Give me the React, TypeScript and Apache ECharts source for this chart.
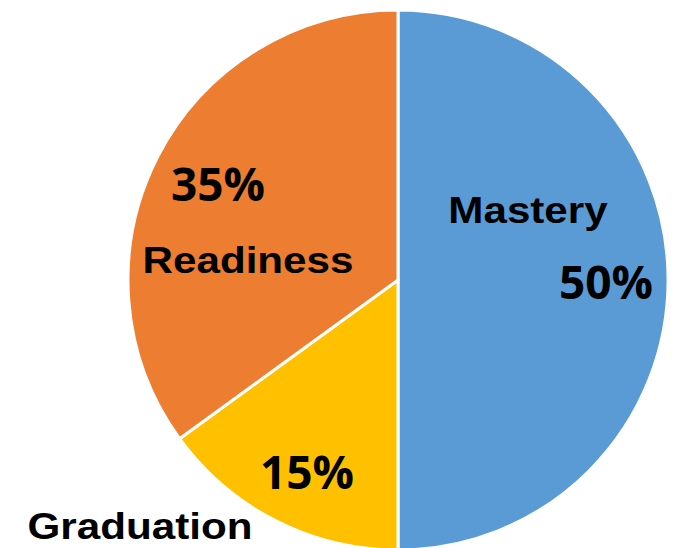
import React, { useEffect, useRef } from "react";
import * as echarts from "echarts";

const categories = ["Mastery", "Graduation", "Readiness"];
const values = [50, 15, 35];
const colors = ["#5B9BD5", "#FFC000", "#ED7D31"];
const percentLabels = ["50%", "15%", "35%"];

export default function App() {
  const ref = useRef<HTMLDivElement>(null);
  useEffect(() => {
    document.body.style.margin = "0";
    const chart = echarts.init(ref.current!, null, { renderer: "svg" });
    const nameFont = { fontFamily: "Liberation Sans, Arial, sans-serif", fontWeight: "bold", fontSize: 37, fill: "#000" };
    const pctFont = { fontFamily: "Open Sans, sans-serif", fontWeight: "bold", fontSize: 46, fill: "#000" };
    const namePos = [[528, 210], [140, 526], [248, 260]];
    const pctPos = [[606, 281], [307, 471], [218, 183]];
    const graphic: any[] = [];
    categories.forEach((c, i) => {
      graphic.push({ type: "text", z: 100, x: namePos[i][0], y: namePos[i][1], scaleX: 1.14, style: { text: c, align: "center", verticalAlign: "middle", ...nameFont } });
      graphic.push({ type: "text", z: 100, x: pctPos[i][0], y: pctPos[i][1], style: { text: percentLabels[i], align: "center", verticalAlign: "middle", ...pctFont } });
    });
    chart.setOption({
      animation: false,
      backgroundColor: "#fff",
      series: [
        {
          type: "pie",
          z: 1,
          center: [398, 280],
          radius: 270,
          startAngle: 90,
          clockwise: true,
          label: { show: false },
          labelLine: { show: false },
          itemStyle: { borderColor: "#fff", borderWidth: 3 },
          data: categories.map((c, i) => ({ name: c, value: values[i], itemStyle: { color: colors[i] } })),
        },
      ],
      graphic,
    });
    return () => chart.dispose();
  }, []);
  return <div ref={ref} style={{ width: 677, height: 548 }} />;
}
